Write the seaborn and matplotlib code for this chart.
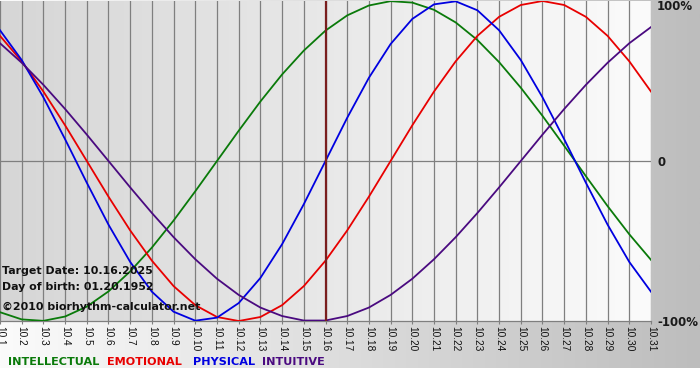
import numpy as np
import pandas as pd
import matplotlib
matplotlib.use("Agg")
import matplotlib.pyplot as plt
import seaborn as sns

# days of October 2025 shown on the chart
days = list(range(1, 32))
day_labels = [f"10.{d}" for d in days]
target_day = 16

# values in percent
intellectual = [-94.5, -99.0, -99.9, -97.2, -91.0, -81.5, -69.0, -54.1, -37.2, -18.9,
                0.0, 18.9, 37.2, 54.1, 69.0, 81.5, 91.0, 97.2, 99.9, 99.0,
                94.5, 86.6, 75.6, 61.8, 45.8, 28.2, 9.5, -9.5, -28.2, -45.8, -61.8]
emotional = [78.2, 62.3, 43.4, 22.3, 0.0, -22.3, -43.4, -62.3, -78.2, -90.1,
             -97.5, -100.0, -97.5, -90.1, -78.2, -62.3, -43.4, -22.3, 0.0, 22.3,
             43.4, 62.3, 78.2, 90.1, 97.5, 100.0, 97.5, 90.1, 78.2, 62.3, 43.4]
physical = [81.7, 63.1, 39.8, 13.6, -13.6, -39.8, -63.1, -81.7, -94.2, -99.8,
            -97.9, -88.8, -73.1, -52.0, -27.0, 0.0, 27.0, 52.0, 73.1, 88.8,
            97.9, 99.8, 94.2, 81.7, 63.1, 39.8, 13.6, -13.6, -39.8, -63.1, -81.7]
intuitive = [73.6, 61.4, 47.6, 32.5, 16.5, 0.0, -16.5, -32.5, -47.6, -61.4,
             -73.6, -83.7, -91.6, -96.9, -99.7, -99.7, -96.9, -91.6, -83.7, -73.6,
             -61.4, -47.6, -32.5, -16.5, 0.0, 16.5, 32.5, 47.6, 61.4, 73.6, 83.7]

series_names = ["INTELLECTUAL", "EMOTIONAL", "PHYSICAL", "INTUITIVE"]
series_colors = ["#0a7a0a", "#e80000", "#0000e0", "#4a0a80"]
info_lines = ["Target Date: 10.16.2025", "Day of birth: 01.20.1952",
              "\u00a92010 biorhythm-calculator.net"]

df = pd.DataFrame({
    "day": days * 4,
    "value": intellectual + emotional + physical + intuitive,
    "cycle": np.repeat(series_names, len(days)),
})

W, H = 700, 380
fig = plt.figure(figsize=(W / 100, H / 100), dpi=100, facecolor="white")

# outer gradient band behind everything (white -> gray to the right)
bg = fig.add_axes([0, 1 - 368 / H, 1, 368 / H], zorder=-2)
bg.imshow(np.linspace(0, 1, 256)[None, :], aspect="auto",
          cmap=matplotlib.colors.LinearSegmentedColormap.from_list("o", ["#fbfbfb", "#bdbdbd"]),
          extent=(0, 1, 0, 1))
bg.axis("off")

ax = fig.add_axes([0, 1 - 321 / H, 651 / W, 320 / H])
ax.set_facecolor("none")
ax.set_xlim(1, 31)
ax.set_ylim(-100, 100)

# plot area gradient (darker left, lighter right)
ax.imshow(np.linspace(0, 1, 256)[None, :], aspect="auto", zorder=0,
          cmap=matplotlib.colors.LinearSegmentedColormap.from_list("p", ["#d6d6d6", "#fbfbfb"]),
          extent=(1, 31, -100, 100))

for d in days:
    ax.axvline(d, color="#7f7f7f", lw=0.9, zorder=1)
ax.axhline(0, color="#7f7f7f", lw=0.9, zorder=1)

sns.lineplot(data=df, x="day", y="value", hue="cycle", hue_order=series_names,
             palette=series_colors, lw=1.3, legend=False, ax=ax, zorder=3)

ax.axvline(target_day, color="#7a1e1e", lw=1.6, zorder=4)

for s in ["top", "left", "right"]:
    ax.spines[s].set_visible(False)
ax.spines["bottom"].set_color("#7f7f7f")
ax.spines["bottom"].set_linewidth(0.9)
ax.set_yticks([])
ax.set_xticks(days)
ax.set_xticklabels(day_labels, rotation=-90, fontsize=7.3, family="Liberation Sans", color="#111111")
ax.tick_params(axis="x", length=2.5, width=0.8, color="#7f7f7f", pad=1)
ax.set_xlabel("")
ax.set_ylabel("")

# right-hand scale labels
for txt, y in [("100%", 7), ("0", 162), ("-100%", 322)]:
    fig.text(657 / W, 1 - y / H, txt, fontsize=8.5, fontweight="bold", color="#1a1a1a",
             ha="left", va="center")

# info text
for txt, y in zip(info_lines, [271, 287, 307]):
    fig.text(2 / W, 1 - y / H, txt, fontsize=7.9, fontweight="bold", color="#111111",
             ha="left", va="center")

# legend words
for name, col, x in zip(series_names, series_colors, [8, 107, 193, 262]):
    fig.text(x / W, 1 - 362 / H, name, fontsize=8.1, fontweight="bold", color=col,
             ha="left", va="center")

fig.savefig("out.png", dpi=100)
